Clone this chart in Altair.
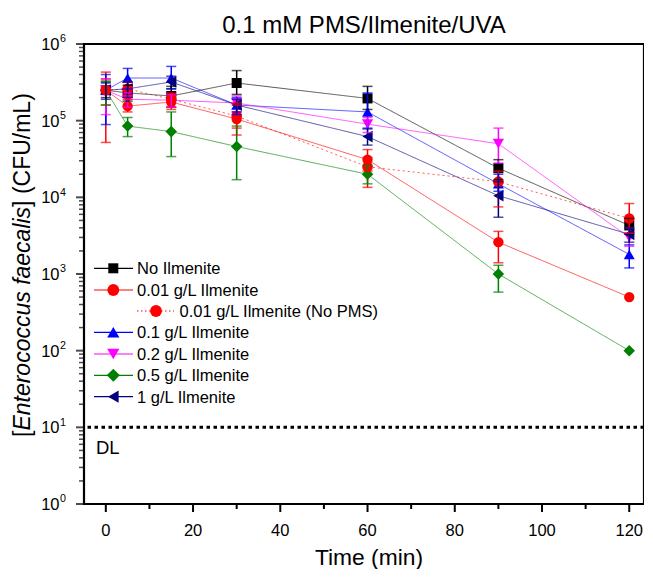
import altair as alt
import pandas as pd

FONT = "Liberation Sans"

times = [0, 5, 15, 30, 60, 90, 120]

series = ["No Ilmenite", "0.01 g/L Ilmenite", "0.01 g/L Ilmenite (No PMS)",
          "0.1 g/L Ilmenite", "0.2 g/L Ilmenite", "0.5 g/L Ilmenite", "1 g/L Ilmenite"]
colors = ["#000000", "#FF0000", "#FF0000", "#0000FF", "#FF00FF", "#008000", "#000080"]
shapes = ["square", "circle", "circle", "triangle-up", "triangle-down", "diamond", "triangle-left"]
sizes = [100, 140, 140, 150, 150, 170, 150]
dashes = [[1, 0], [1, 0], [2, 3], [1, 0], [1, 0], [1, 0], [1, 0]]

no_ilm = [2.5e5, 2.3e5, 2.1e5, 3.1e5, 1.95e5, 2.4e4, 4.3e3]
no_ilm_lo = [2.0e5, 1.8e5, 1.5e5, 2.2e5, 1.4e5, 1.7e4, 3.3e3]
no_ilm_hi = [3.2e5, 2.9e5, 2.8e5, 4.5e5, 2.8e5, 3.1e4, 5.3e3]

ilm001 = [2.5e5, 1.55e5, 1.75e5, 1.05e5, 3.1e4, 2.6e3, 5.0e2]
ilm001_lo = [5.2e4, 1.3e5, 1.4e5, 6.5e4, 2.2e4, 1.4e3, None]
ilm001_hi = [4.3e5, 1.9e5, 2.2e5, 1.7e5, 4.2e4, 3.6e3, None]

ilm001_nopms = [2.5e5, 2.6e5, 1.9e5, 1.15e5, 2.5e4, 1.6e4, 5.3e3]
ilm001_nopms_lo = [1.6e5, 2.1e5, 1.5e5, 8.0e4, 1.35e4, 7.5e3, 3.4e3]
ilm001_nopms_hi = [3.5e5, 3.2e5, 2.3e5, 1.6e5, 3.3e4, 2.2e4, 8.3e3]

ilm01 = [2.5e5, 3.6e5, 3.6e5, 1.6e5, 1.3e5, 1.5e4, 1.8e3]
ilm01_lo = [8.9e4, 2.6e5, 2.6e5, 1.2e5, 8.0e4, 1.2e4, 1.2e3]
ilm01_hi = [4.0e5, 4.8e5, 5.1e5, 2.0e5, 2.3e5, 2.0e4, 2.4e3]

ilm02 = [2.5e5, 1.9e5, 1.85e5, 1.7e5, 9.0e4, 5.0e4, 3.0e3]
ilm02_lo = [1.2e5, 1.5e5, 1.5e5, 1.3e5, 7.0e4, 2.8e4, 2.3e3]
ilm02_hi = [3.5e5, 2.3e5, 2.2e5, 2.1e5, 1.1e5, 8.0e4, 4.0e3]

ilm05 = [2.5e5, 8.5e4, 7.2e4, 4.6e4, 2.0e4, 1.0e3, 1.0e2]
ilm05_lo = [1.6e5, 6.2e4, 3.4e4, 1.7e4, 1.5e4, 5.8e2, None]
ilm05_hi = [3.3e5, 1.1e5, 1.3e5, 8.5e4, 2.6e4, 1.3e3, None]

ilm1 = [2.5e5, 2.6e5, 3.2e5, 1.6e5, 6.2e4, 1.05e4, 3.3e3]
ilm1_lo = [1.9e5, 2.0e5, 2.6e5, 1.3e5, 4.8e4, 5.5e3, 2.6e3]
ilm1_hi = [3.1e5, 3.2e5, 3.8e5, 1.9e5, 7.8e4, 1.6e4, 4.0e3]

values = [no_ilm, ilm001, ilm001_nopms, ilm01, ilm02, ilm05, ilm1]
lows = [no_ilm_lo, ilm001_lo, ilm001_nopms_lo, ilm01_lo, ilm02_lo, ilm05_lo, ilm1_lo]
highs = [no_ilm_hi, ilm001_hi, ilm001_nopms_hi, ilm01_hi, ilm02_hi, ilm05_hi, ilm1_hi]

x_ticks = [0, 20, 40, 60, 80, 100, 120]
x_tick_labels = ["0", "20", "40", "60", "80", "100", "120"]
x_minor = [10, 30, 50, 70, 90, 110]
y_decades = [1, 10, 100, 1000, 10000, 100000, 1000000]
y_exps = ["0", "1", "2", "3", "4", "5", "6"]
y_minor = [k * 10 ** e for e in range(0, 6) for k in range(2, 10)]
detection_limit = 10

title_text = "0.1 mM PMS/Ilmenite/UVA"
x_title = "Time (min)"
y_title_parts = ["[", "Enterococcus faecalis", "] (CFU/mL)"]

# ---------------------------------------------------------------
rows = []
for s, vals, lo, hi in zip(series, values, lows, highs):
    for t, v, l, h in zip(times, vals, lo, hi):
        rows.append({"series": s, "time": t, "value": v, "lo": l, "hi": h})
df = pd.DataFrame(rows)
err_df = df.dropna(subset=["lo", "hi"])
point_order = [0, 3, 4, 5, 6, 1, 2]
pts_df = pd.concat([df[df.series == series[i]] for i in point_order])

W, H = 560, 460
xs = alt.Scale(domain=[-5, -5 + W / 4.362], nice=False, zero=False)
ys = alt.Scale(type="log", domain=[1, 1e6], nice=False)

color = alt.Color("series:N", scale=alt.Scale(domain=series, range=colors), legend=None)

lines = alt.Chart(df).mark_line(strokeWidth=1, opacity=0.65).encode(
    x=alt.X("time:Q", scale=xs, axis=None),
    y=alt.Y("value:Q", scale=ys, axis=None),
    color=color,
    strokeDash=alt.StrokeDash("series:N", scale=alt.Scale(domain=series, range=dashes), legend=None),
)

points = alt.Chart(pts_df).mark_point(filled=True, opacity=1, strokeWidth=0).encode(
    x=alt.X("time:Q", scale=xs, axis=None),
    y=alt.Y("value:Q", scale=ys, axis=None),
    color=color,
    shape=alt.Shape("series:N", scale=alt.Scale(domain=series, range=shapes), legend=None),
    size=alt.Size("series:N", scale=alt.Scale(domain=series, range=sizes), legend=None),
)

err_v = alt.Chart(err_df).mark_rule(strokeWidth=1.5).encode(
    x=alt.X("time:Q", scale=xs, axis=None),
    y=alt.Y("lo:Q", scale=ys, axis=None),
    y2="hi:Q",
    color=color,
)
cap_lo = alt.Chart(err_df).mark_tick(thickness=1.5, size=10, orient="horizontal").encode(
    x=alt.X("time:Q", scale=xs, axis=None),
    y=alt.Y("lo:Q", scale=ys, axis=None), color=color)
cap_hi = alt.Chart(err_df).mark_tick(thickness=1.5, size=10, orient="horizontal").encode(
    x=alt.X("time:Q", scale=xs, axis=None),
    y=alt.Y("hi:Q", scale=ys, axis=None), color=color)

dl_df = pd.DataFrame({"v": [detection_limit]})
dl_line = alt.Chart(dl_df).mark_rule(color="black", strokeWidth=3, strokeDash=[3.5, 3.5]).encode(
    y=alt.Y("v:Q", scale=ys, axis=None))
dl_text = alt.Chart(dl_df).mark_text(align="left", baseline="alphabetic", dy=27, font=FONT,
                                     fontSize=18.5, color="black").encode(
    y=alt.Y("v:Q", scale=ys, axis=None), x=alt.value(12), text=alt.value("DL"))

# y axis: ticks and labels
dec_df = pd.DataFrame({"v": y_decades, "e": y_exps})
ymajor = alt.Chart(dec_df).mark_tick(color="black", thickness=2, size=8, orient="horizontal").encode(
    y=alt.Y("v:Q", scale=ys, axis=None), x=alt.value(-4))
yminor = alt.Chart(pd.DataFrame({"v": y_minor})).mark_tick(color="black", thickness=1.5, size=5,
                                                           orient="horizontal").encode(
    y=alt.Y("v:Q", scale=ys, axis=None), x=alt.value(-2.5))
ylab10 = alt.Chart(dec_df).mark_text(align="right", baseline="alphabetic", dy=5.9, font=FONT,
                                     fontSize=16.5, color="black").encode(
    y=alt.Y("v:Q", scale=ys, axis=None), x=alt.value(-24.5), text=alt.value("10"))
ylabexp = alt.Chart(dec_df).mark_text(align="left", baseline="alphabetic", dy=-1.7, font=FONT,
                                      fontSize=10.7, color="black").encode(
    y=alt.Y("v:Q", scale=ys, axis=None), x=alt.value(-24), text="e:N")

# x axis: ticks and labels
xt_df = pd.DataFrame({"v": x_ticks, "lab": x_tick_labels})
xmajor = alt.Chart(xt_df).mark_rule(color="black", strokeWidth=2).encode(
    x=alt.X("v:Q", scale=xs, axis=None), y=alt.value(H), y2=alt.value(H + 8))
xminor = alt.Chart(pd.DataFrame({"v": x_minor})).mark_rule(color="black", strokeWidth=2).encode(
    x=alt.X("v:Q", scale=xs, axis=None), y=alt.value(H), y2=alt.value(H + 5))
xlab = alt.Chart(xt_df).mark_text(align="center", baseline="alphabetic", font=FONT,
                                  fontSize=16.5, color="black").encode(
    x=alt.X("v:Q", scale=xs, axis=None), y=alt.value(H + 31.8), text="lab:N")

one = pd.DataFrame({"k": [0]})

frame = alt.Chart(one).mark_rect(fillOpacity=0, stroke="black", strokeWidth=2.2).encode(
    x=alt.value(0), x2=alt.value(W), y=alt.value(0), y2=alt.value(H))

xtitle = alt.Chart(one).mark_text(align="center", baseline="alphabetic", font=FONT,
                                  fontSize=22.8, color="black").encode(
    x=alt.value(285), y=alt.value(H + 60.5), text=alt.value(x_title))
main_title = alt.Chart(one).mark_text(align="center", baseline="alphabetic", font=FONT,
                                      fontSize=24, color="black").encode(
    x=alt.value(280), y=alt.value(-10.7), text=alt.value(title_text))

# y-axis title with italic species name
y_title_layers = []
y_starts = [393.0, 386.6, 162.9]
y_styles = ["normal", "italic", "normal"]
for part, ystart, st in zip(y_title_parts, y_starts, y_styles):
    y_title_layers.append(
        alt.Chart(one).mark_text(angle=270, align="left", baseline="alphabetic", font=FONT,
                                 fontSize=23, fontStyle=st, color="black").encode(
            x=alt.value(-54.5), y=alt.value(ystart), text=alt.value(part)))

# legend
legend_layers = []
leg_y = [224.3, 246, 267, 288.3, 310, 331.3, 352.7]
for i, (s, c, sh, sz) in enumerate(zip(series, colors, shapes, sizes)):
    if i == 2:
        x1, x2, sx, tx = 53, 90, 72, 95.5
        dash = [1.5, 2.5]
    else:
        x1, x2, sx, tx = 10, 49, 29.3, 53
        dash = [1, 0]
    yy = leg_y[i]
    legend_layers.append(alt.Chart(one).mark_rule(color=c, strokeWidth=1.2, strokeDash=dash).encode(
        x=alt.value(x1), x2=alt.value(x2), y=alt.value(yy)))
    legend_layers.append(alt.Chart(one).mark_point(filled=True, opacity=1, strokeWidth=0, shape=sh,
                                                   size=sz, color=c).encode(
        x=alt.value(sx), y=alt.value(yy)))
    legend_layers.append(alt.Chart(one).mark_text(align="left", baseline="alphabetic", dy=5.9,
                                                  font=FONT, fontSize=16.5, color="black").encode(
        x=alt.value(tx), y=alt.value(yy), text=alt.value(s)))

chart = alt.layer(
    lines, dl_line, points, err_v, cap_lo, cap_hi, dl_text,
    ymajor, yminor, ylab10, ylabexp, xmajor, xminor, xlab, frame, xtitle, main_title,
    *y_title_layers, *legend_layers
).properties(
    width=W, height=H,
    padding={"left": 76, "top": 36, "right": 0, "bottom": 65},
    autosize=alt.AutoSizeParams(type="none"),
).configure_view(stroke=None)

chart.save("out.html", embed_options={"renderer": "svg", "actions": False})
